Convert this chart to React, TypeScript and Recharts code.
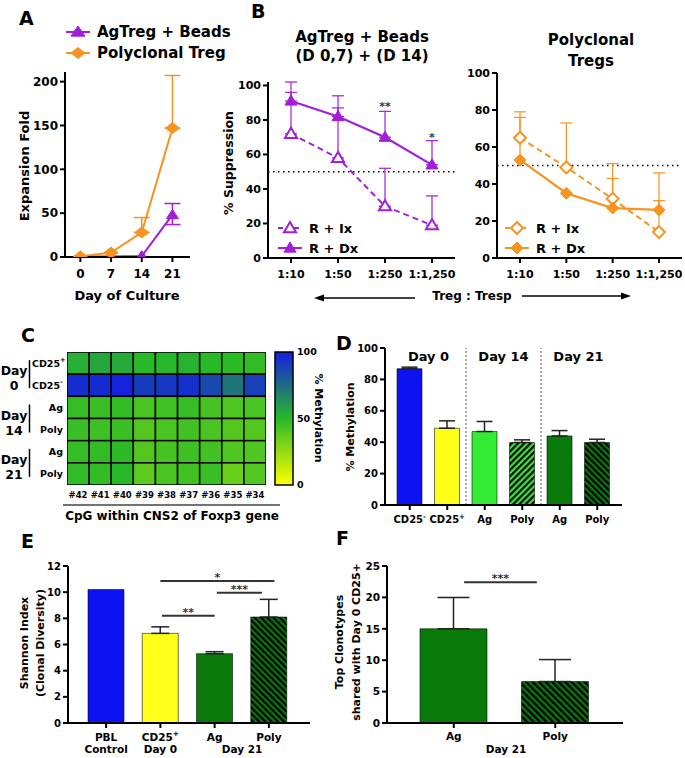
import React from "react";
import {
  LineChart,
  Line,
  BarChart,
  Bar,
  ScatterChart,
  Scatter,
  XAxis,
  YAxis,
  ErrorBar,
  ReferenceLine,
  ReferenceDot,
  Legend,
  Cell,
} from "recharts";

const FONT = "'DejaVu Sans', 'Liberation Sans', sans-serif";
const PURPLE = "#a11fd6";
const ORANGE = "#f7931e";
const BLUE = "#0d12f2";
const YELLOW = "#ffff1a";
const LIGHT_GREEN = "#35ec35";
const DARK_GREEN = "#087a0a";

// ---- A: expansion fold
const cultureDays = [0, 7, 14, 21];
const expansionSeries = ["AgTreg + Beads", "Polyclonal Treg"];
const agExpansion = [0.5, 0.5, 1, 48];
const agExpansionLow = [null, null, null, 11];
const agExpansionHigh = [null, null, null, 13];
const polyExpansion = [0.5, 5, 28, 147];
const polyExpansionHigh = [null, null, 17, 60];
const expansionTicks = [0, 50, 100, 150, 200];

// ---- B: suppression
const ratios = ["1:10", "1:50", "1:250", "1:1,250"];
const suppressionSeries = ["R + Ix", "R + Dx"];
const agIx = [72, 58, 30, 19];
const agIxHigh = [24, 29, 22, 17];
const agDx = [91, 82, 70, 54];
const agDxHigh = [11, 12, 15, 14];
const agStars = ["", "", "**", "*"];
const agStarLevel = [null, null, 89, 71];
const polyIx = [65, 49, 32, 14];
const polyIxHigh = [14, 24, 19, 32];
const polyDx = [53, 35, 27, 26];
const polyDxHigh = [23, null, 16, 5];
const suppressionTicks = [0, 20, 40, 60, 80, 100];

// ---- C: CNS2 methylation heatmap
const cpgSites = ["#42", "#41", "#40", "#39", "#38", "#37", "#36", "#35", "#34"];
const heatRowLabels = ["CD25+", "CD25-", "Ag", "Poly", "Ag", "Poly"];
const heatDays = ["0", "14", "21"];
const methCD25pos = [53, 56, 55, 50, 51, 52, 50, 49, 48];
const methCD25neg = [95, 96, 99, 90, 92, 94, 86, 72, 89];
const methAg14 = [47, 46, 48, 42, 44, 47, 43, 41, 42];
const methPoly14 = [46, 45, 46, 40, 42, 44, 42, 40, 40];
const methAg21 = [47, 48, 49, 40, 43, 45, 44, 41, 41];
const methPoly21 = [48, 48, 50, 38, 42, 44, 46, 35, 40];
const methRows = [methCD25pos, methCD25neg, methAg14, methPoly14, methAg21, methPoly21];
const colorbarTicks = [0, 50, 100];

// ---- D: mean methylation
const methIds = ["CD25-", "CD25+", "Ag14", "Poly14", "Ag21", "Poly21"];
const methTickLines = [["CD25-"], ["CD25+"], ["Ag"], ["Poly"], ["Ag"], ["Poly"]];
const methMean = [86.8, 48.9, 46.8, 39.8, 44, 39.8];
const methSem = [1, 4.7, 6.4, 1.7, 3.4, 2.1];
const dayBlocks = ["Day 0", "Day 14", "Day 21"];
const methTicks = [0, 20, 40, 60, 80, 100];

// ---- E: Shannon index
const diversityIds = ["PBL", "CD25+", "Ag", "Poly"];
const diversityTickLines = [["PBL", "Control"], ["CD25+", "Day 0"], ["Ag"], ["Poly"]];
const diversity = [10.2, 6.85, 5.3, 8.1];
const diversitySem = [null, 0.5, 0.15, 1.35];
// comparison bars, in units of bar index
const diversitySig = [
  { from: 1, to: 3.1, level: 10.85, stars: "*" },
  { from: 2.04, to: 2.87, level: 9.95, stars: "***" },
  { from: 1.03, to: 2.0, level: 8.2, stars: "**" },
];
const diversityTicks = [0, 2, 4, 6, 8, 10, 12];

// ---- F: shared clonotypes
const clonotypeIds = ["Ag", "Poly"];
const clonotypes = [15, 6.6];
const clonotypeSem = [5, 3.5];
const clonotypeSig = [{ from: 0.1, to: 0.82, level: 22.4, stars: "***" }];
const clonotypeTicks = [0, 5, 10, 15, 20, 25];

const axisLine = { stroke: "#000", strokeWidth: 2 };
const tickFont = (size: number) => ({ fill: "#000", fontSize: size, fontWeight: 700, fontFamily: FONT });
const errPair = (low: any, high: any) => (high == null ? null : [low ?? 0, high]);

const methStops = [
  [255, 255, 0],
  [40, 185, 40],
  [20, 30, 225],
];
function methColor(v: number) {
  const t = Math.max(0, Math.min(100, v)) / 50;
  const [a, b] = t <= 1 ? [methStops[0], methStops[1]] : [methStops[1], methStops[2]];
  const f = t <= 1 ? t : t - 1;
  const c = a.map((x, k) => Math.round(x + (b[k] - x) * f));
  return `rgb(${c[0]},${c[1]},${c[2]})`;
}

// superscript + / - at the end of a label (CD25+)
function SupText({ text, size }: any) {
  const last = text.slice(-1);
  if (text.startsWith("CD25") && (last === "+" || last === "-")) {
    return (
      <>
        {text.slice(0, -1)}
        <tspan dy={-size * 0.45} fontSize={size * 0.7}>
          {last}
        </tspan>
      </>
    );
  }
  return <>{text}</>;
}

function Marker({ cx, cy, shape, color, open, rx, ry }: any) {
  if (cx == null || cy == null || isNaN(cx) || isNaN(cy)) return null;
  const pts =
    shape === "tri"
      ? [[cx, cy - ry * 1.1], [cx + rx, cy + ry * 0.75], [cx - rx, cy + ry * 0.75]]
      : [[cx, cy - ry], [cx + rx, cy], [cx, cy + ry], [cx - rx, cy]];
  return (
    <polygon
      points={pts.map((p) => p.join(",")).join(" ")}
      fill={open ? "#fff" : color}
      stroke={color}
      strokeWidth={open ? 2 : 1}
    />
  );
}

function SeriesLegend({ items, fontSize, gap, rx, ry }: any) {
  return (
    <svg width={200} height={gap * items.length + 6} style={{ display: "block", overflow: "visible" }}>
      {items.map((it: any, i: number) => {
        const y = 10 + i * gap;
        return (
          <g key={it.name}>
            <line x1={0} x2={24} y1={y} y2={y} stroke={it.color} strokeWidth={2} strokeDasharray={it.dash} />
            <Marker cx={12} cy={y} shape={it.shape} color={it.color} open={it.open} rx={rx} ry={ry} />
            <text x={31} y={y} dy="0.36em" fontSize={fontSize} fontWeight={700} fontFamily={FONT} fill="#000">
              {it.name}
            </text>
          </g>
        );
      })}
    </svg>
  );
}

// rotated axis title; "rot" (not "angle") so the Label props do not override it
function RotTitle({ tx, ty, lines, size, rot = -90, gap = 16 }: any) {
  return (
    <g transform={`translate(${tx},${ty}) rotate(${rot})`}>
      {lines.map((l: string, i: number) => (
        <text
          key={i}
          x={0}
          y={i * gap}
          textAnchor="middle"
          dominantBaseline="central"
          fontSize={size}
          fontWeight={700}
          fontFamily={FONT}
          fill="#000"
        >
          <SupText text={l} size={size} />
        </text>
      ))}
    </g>
  );
}

function AxisText({ tx, ty, text, size }: any) {
  return (
    <text x={tx} y={ty} textAnchor="middle" fontSize={size} fontWeight={700} fontFamily={FONT} fill="#000">
      {text}
    </text>
  );
}

function LinesTick({ x, index, payload, lines, size, y1, gap }: any) {
  const i = index ?? payload?.index ?? 0;
  const pair = lines[i] ?? [];
  return (
    <g>
      {pair.map((t: string, k: number) => (
        <text
          key={k}
          x={x}
          y={y1 + k * gap}
          textAnchor="middle"
          fontSize={size}
          fontWeight={700}
          fontFamily={FONT}
          fill="#000"
        >
          <SupText text={t} size={size} />
        </text>
      ))}
    </g>
  );
}

// asterisks; "lift" = baseline offset below the anchor point
function StarLabel({ viewBox, text, size, lift = 6 }: any) {
  const x = (viewBox?.x ?? 0) + (viewBox?.width ?? 0) / 2;
  const y = (viewBox?.y ?? 0) + (viewBox?.height ?? 0) / 2;
  return (
    <text x={x} y={y + lift} textAnchor="middle" fontSize={size} fontWeight={700} fontFamily={FONT} fill="#333">
      {text}
    </text>
  );
}

function Hatch({ id, color, turn, period }: any) {
  return (
    <pattern id={id} patternUnits="userSpaceOnUse" width={period} height={period} patternTransform={`rotate(${turn})`}>
      <rect width={period} height={period} fill={color} />
      <rect width={period / 2} height={period} fill="#000" />
    </pattern>
  );
}

// ---------------- A ----------------
function ExpansionChart() {
  const data = cultureDays.map((day, i) => ({
    day,
    ag: agExpansion[i],
    agErr: errPair(agExpansionLow[i], agExpansionHigh[i]),
    poly: polyExpansion[i],
    polyErr: errPair(0, polyExpansionHigh[i]),
  }));
  const legendItems = [
    { name: expansionSeries[0], color: PURPLE, shape: "tri", open: false },
    { name: expansionSeries[1], color: ORANGE, shape: "dia", open: false },
  ];
  return (
    <LineChart width={245} height={305} data={data} margin={{ top: 72, right: 55, bottom: 18, left: 20 }}>
      <XAxis
        type="number"
        dataKey="day"
        domain={[-3.5, 25]}
        ticks={cultureDays}
        allowDataOverflow
        axisLine={axisLine}
        tickLine={axisLine}
        tickSize={5}
        tickMargin={7}
        tick={tickFont(12)}
        height={30}
        label={<AxisText tx={127} ty={300} text="Day of Culture" size={13} />}
      />
      <YAxis
        domain={[0, 211]}
        ticks={expansionTicks}
        allowDataOverflow
        width={45}
        axisLine={axisLine}
        tickLine={axisLine}
        tickSize={5}
        tick={tickFont(12)}
        label={<RotTitle tx={24} ty={166} lines={["Expansion Fold"]} size={13} />}
      />
      <Line
        dataKey="ag"
        stroke={PURPLE}
        strokeWidth={2}
        isAnimationActive={false}
        dot={(p: any) => <Marker key={`ag-${p.index}`} cx={p.cx} cy={p.cy} shape="tri" color={PURPLE} rx={6} ry={5} />}
      >
        <ErrorBar dataKey="agErr" width={8} stroke={PURPLE} strokeWidth={1.5} direction="y" />
      </Line>
      <Line
        dataKey="poly"
        stroke={ORANGE}
        strokeWidth={2}
        isAnimationActive={false}
        dot={(p: any) => <Marker key={`po-${p.index}`} cx={p.cx} cy={p.cy} shape="dia" color={ORANGE} rx={7} ry={5.5} />}
      >
        <ErrorBar dataKey="polyErr" width={8} stroke={ORANGE} strokeWidth={1.5} direction="y" />
      </Line>
      <Legend
        layout="vertical"
        align="center"
        verticalAlign="middle"
        wrapperStyle={{ left: 66, top: 22, width: 200, height: 50 }}
        content={() => <SeriesLegend items={legendItems} fontSize={15} gap={21} rx={7} ry={5.5} />}
      />
    </LineChart>
  );
}

// ---------------- B ----------------
function SuppressionChart({ width, margin, ix, ixHigh, dx, dxHigh, color, shape, stars, starLevel, yTitle, legendLeft, idp }: any) {
  const data = ratios.map((ratio, i) => ({
    ratio,
    ix: ix[i],
    ixErr: errPair(0, ixHigh[i]),
    dx: dx[i],
    dxErr: errPair(0, dxHigh[i]),
  }));
  const legendItems = [
    { name: suppressionSeries[0], color, shape, open: true, dash: "5 3" },
    { name: suppressionSeries[1], color, shape, open: false },
  ];
  const rx = 6;
  const ry = shape === "tri" ? 5.5 : 6;
  return (
    <LineChart width={width} height={305} data={data} margin={margin}>
      <XAxis
        dataKey="ratio"
        padding={{ left: 23, right: 23 }}
        interval={0}
        axisLine={axisLine}
        tickLine={axisLine}
        tickSize={5}
        tickMargin={7}
        tick={tickFont(11)}
        height={30}
      />
      <YAxis
        domain={[0, 100]}
        ticks={suppressionTicks}
        width={40}
        axisLine={axisLine}
        tickLine={axisLine}
        tickSize={5}
        tick={tickFont(11)}
        label={yTitle ? <RotTitle tx={13} ty={163} lines={[yTitle]} size={12.5} /> : undefined}
      />
      <ReferenceLine y={50} stroke="#000" strokeWidth={1.6} strokeDasharray="1.5 3.5" />
      <Line
        dataKey="ix"
        stroke={color}
        strokeWidth={2}
        strokeDasharray="6 4"
        isAnimationActive={false}
        dot={(p: any) => (
          <Marker key={`${idp}ix-${p.index}`} cx={p.cx} cy={p.cy} shape={shape} color={color} open rx={rx} ry={ry} />
        )}
      >
        <ErrorBar dataKey="ixErr" width={6} stroke={color} strokeWidth={1.2} direction="y" />
      </Line>
      <Line
        dataKey="dx"
        stroke={color}
        strokeWidth={2.2}
        isAnimationActive={false}
        dot={(p: any) => (
          <Marker key={`${idp}dx-${p.index}`} cx={p.cx} cy={p.cy} shape={shape} color={color} rx={rx} ry={ry} />
        )}
      >
        <ErrorBar dataKey="dxErr" width={6} stroke={color} strokeWidth={1.2} direction="y" />
      </Line>
      {stars.map((s: string, i: number) =>
        s ? (
          <ReferenceDot
            key={`st-${i}`}
            x={ratios[i]}
            y={starLevel[i]}
            r={0}
            fill="none"
            stroke="none"
            label={<StarLabel text={s} size={11} lift={6} />}
          />
        ) : null
      )}
      <Legend
        layout="vertical"
        align="center"
        verticalAlign="middle"
        wrapperStyle={{ left: legendLeft, top: 218, width: 150, height: 45 }}
        content={() => <SeriesLegend items={legendItems} fontSize={13} gap={20} rx={rx} ry={ry} />}
      />
    </LineChart>
  );
}

// ---------------- C ----------------
const HEAT_CELL_W = 199 / 9;
const HEAT_CELL_H = 133 / 6;

function HeatRowTick({ y, payload }: any) {
  const i = payload?.value ?? 0;
  const label = heatRowLabels[i];
  const isCD = label.startsWith("CD25");
  const cy = y + HEAT_CELL_H / 2;
  return (
    <g>
      <text
        x={isCD ? 32 : 63}
        y={y}
        dy="0.36em"
        textAnchor={isCD ? "start" : "end"}
        fontSize={9.5}
        fontWeight={700}
        fontFamily={FONT}
        fill="#000"
      >
        <SupText text={label} size={9.5} />
      </text>
      {i % 2 === 0 && (
        <g fontFamily={FONT} fontWeight={700} fill="#000">
          <text x={14} y={cy + 1} textAnchor="middle" fontSize={12.5}>
            Day
          </text>
          <text x={14} y={cy + 16} textAnchor="middle" fontSize={12.5}>
            {heatDays[i / 2]}
          </text>
          <line x1={29.5} x2={29.5} y1={cy - 14} y2={cy + 14} stroke="#000" strokeWidth={1.5} />
        </g>
      )}
    </g>
  );
}

function HeatCaption() {
  return (
    <g>
      <line x1={63} x2={280} y1={205} y2={205} stroke="#444" strokeWidth={1.5} />
      <text x={172} y={220} textAnchor="middle" fontSize={12} fontWeight={700} fontFamily={FONT} fill="#000">
        CpG within CNS2 of Foxp3 gene
      </text>
    </g>
  );
}

function HeatmapChart() {
  const cells = methRows.flatMap((row, r) => row.map((v, c) => ({ col: c, row: r, v })));
  return (
    <ScatterChart width={290} height={225} margin={{ top: 52, right: 24, bottom: 0, left: 0 }}>
      <XAxis
        type="number"
        dataKey="col"
        domain={[-0.5, 8.5]}
        ticks={cpgSites.map((_, i) => i)}
        tickFormatter={(v: number) => cpgSites[v]}
        interval={0}
        allowDataOverflow
        axisLine={false}
        tickLine={false}
        tickSize={0}
        tickMargin={7}
        tick={tickFont(8.5)}
        height={40}
        label={<HeatCaption />}
      />
      <YAxis
        type="number"
        dataKey="row"
        domain={[-0.5, 5.5]}
        ticks={heatRowLabels.map((_, i) => i)}
        interval={0}
        reversed
        allowDataOverflow
        axisLine={false}
        tickLine={false}
        width={67}
        tick={<HeatRowTick />}
      />
      <Scatter
        data={cells}
        isAnimationActive={false}
        shape={(p: any) => (
          <rect
            x={p.cx - HEAT_CELL_W / 2}
            y={p.cy - HEAT_CELL_H / 2}
            width={HEAT_CELL_W}
            height={HEAT_CELL_H}
            fill={methColor(p.payload.v)}
            stroke="#000"
            strokeWidth={1.5}
          />
        )}
      />
    </ScatterChart>
  );
}

function ColorbarChart() {
  return (
    <BarChart width={75} height={200} data={[{ v: 100 }]} margin={{ top: 52, right: 0, bottom: 15, left: 13 }} barCategoryGap={0}>
      <defs>
        <linearGradient id="methGrad" x1="0" y1="0" x2="0" y2="1">
          <stop offset="0%" stopColor={methColor(100)} />
          <stop offset="50%" stopColor={methColor(50)} />
          <stop offset="100%" stopColor={methColor(0)} />
        </linearGradient>
      </defs>
      <XAxis hide />
      <YAxis
        orientation="right"
        domain={[0, 100]}
        ticks={colorbarTicks}
        width={44}
        axisLine={false}
        tickLine={false}
        tickSize={0}
        tickMargin={4}
        tick={tickFont(9.5)}
        label={<RotTitle tx={56} ty={118} rot={90} lines={["% Methylation"]} size={11} />}
      />
      <Bar dataKey="v" fill="url(#methGrad)" stroke="#000" strokeWidth={1.5} isAnimationActive={false} />
    </BarChart>
  );
}

// ---------------- D ----------------
function MethylationBars() {
  const data = methIds.map((id, i) => ({ id, mean: methMean[i], err: errPair(0, methSem[i]) }));
  const fills = [BLUE, YELLOW, LIGHT_GREEN, "url(#hatchD1)", DARK_GREEN, "url(#hatchD2)"];
  return (
    <BarChart width={300} height={232} data={data} margin={{ top: 48, right: 8, bottom: 3, left: 15 }} barSize={25}>
      <defs>
        <Hatch id="hatchD1" color={LIGHT_GREEN} turn={45} period={4.4} />
        <Hatch id="hatchD2" color={DARK_GREEN} turn={-45} period={4.4} />
      </defs>
      <XAxis
        dataKey="id"
        padding={{ left: 6, right: 6 }}
        interval={0}
        axisLine={axisLine}
        tickLine={axisLine}
        tickSize={5}
        height={24}
        tick={<LinesTick lines={methTickLines} size={10} y1={223} gap={12} />}
      />
      <YAxis
        domain={[0, 100]}
        ticks={methTicks}
        width={40}
        axisLine={axisLine}
        tickLine={axisLine}
        tickSize={5}
        tick={tickFont(10)}
        label={<RotTitle tx={20} ty={127} lines={["% Methylation"]} size={11} />}
      />
      {[1, 3].map((k) => (
        <ReferenceLine key={`sep-${k}`} x={methIds[k]} position="end" stroke="#555" strokeWidth={1} strokeDasharray="2 2" />
      ))}
      {dayBlocks.map((d, k) => (
        <ReferenceLine
          key={`blk-${k}`}
          x={methIds[k * 2]}
          position="end"
          stroke="none"
          label={{ value: d, position: "insideTop", offset: 4, fill: "#000", fontSize: 13, fontWeight: 700, fontFamily: FONT }}
        />
      ))}
      <Bar dataKey="mean" isAnimationActive={false} stroke="rgba(0,0,0,0.55)" strokeWidth={1}>
        {data.map((_, i) => (
          <Cell key={i} fill={fills[i]} />
        ))}
        <ErrorBar dataKey="err" width={8} stroke="#222" strokeWidth={1.5} direction="y" />
      </Bar>
    </BarChart>
  );
}

// ---------------- E ----------------
function DiversityBars() {
  const data = diversityIds.map((id, i) => ({ id, pos: i, value: diversity[i], err: errPair(0, diversitySem[i]) }));
  const fills = [BLUE, YELLOW, DARK_GREEN, "url(#hatchE)"];
  return (
    <BarChart width={320} height={238} data={data} margin={{ top: 46, right: 10, bottom: 0, left: 40 }} barSize={36}>
      <defs>
        <Hatch id="hatchE" color={DARK_GREEN} turn={-45} period={4.4} />
      </defs>
      <XAxis
        dataKey="id"
        padding={{ left: 11, right: 14 }}
        interval={0}
        axisLine={axisLine}
        tickLine={axisLine}
        tickSize={5}
        height={35}
        tick={<LinesTick lines={diversityTickLines} size={10.5} y1={221} gap={12} />}
        label={<AxisText tx={242} ty={233} text="Day 21" size={10.5} />}
      />
      <XAxis
        xAxisId="sig"
        dataKey="pos"
        type="number"
        domain={["dataMin", "dataMax"]}
        padding={{ left: 38, right: 41 }}
        hide
      />
      <YAxis
        domain={[0, 12]}
        ticks={diversityTicks}
        width={28}
        axisLine={axisLine}
        tickLine={axisLine}
        tickSize={5}
        tick={tickFont(10)}
        label={<RotTitle tx={24} ty={123} lines={["Shannon Index", "(Clonal Diversity)"]} size={11} gap={16} />}
      />
      <Bar dataKey="value" isAnimationActive={false} stroke="rgba(0,0,0,0.55)" strokeWidth={1}>
        {data.map((_, i) => (
          <Cell key={i} fill={fills[i]} />
        ))}
        <ErrorBar dataKey="err" width={9} stroke="#222" strokeWidth={1.5} direction="y" />
      </Bar>
      {diversitySig.map((s, k) => (
        <ReferenceLine
          key={`sl-${k}`}
          xAxisId="sig"
          ifOverflow="visible"
          segment={[
            { x: s.from, y: s.level },
            { x: s.to, y: s.level },
          ]}
          stroke="#333"
          strokeWidth={2}
        />
      ))}
      {diversitySig.map((s, k) => (
        <ReferenceDot
          key={`sd-${k}`}
          xAxisId="sig"
          ifOverflow="visible"
          x={(s.from + s.to) / 2}
          y={s.level}
          r={0}
          fill="none"
          stroke="none"
          label={<StarLabel text={s.stars} size={11} lift={0} />}
        />
      ))}
    </BarChart>
  );
}

// ---------------- F ----------------
function ClonotypeBars() {
  const data = clonotypeIds.map((id, i) => ({ id, pos: i, value: clonotypes[i], err: errPair(0, clonotypeSem[i]) }));
  const fills = [DARK_GREEN, "url(#hatchF)"];
  return (
    <BarChart width={300} height={238} data={data} margin={{ top: 46, right: 7, bottom: 0, left: 27 }} barSize={67}>
      <defs>
        <Hatch id="hatchF" color={DARK_GREEN} turn={-45} period={4.6} />
      </defs>
      <XAxis
        dataKey="id"
        padding={{ left: 16, right: 17 }}
        interval={0}
        axisLine={axisLine}
        tickLine={axisLine}
        tickSize={5}
        height={35}
        tick={<LinesTick lines={clonotypeIds.map((c) => [c])} size={10.5} y1={220} gap={12} />}
        label={<AxisText tx={176} ty={233} text="Day 21" size={10.5} />}
      />
      <XAxis
        xAxisId="sig"
        dataKey="pos"
        type="number"
        domain={["dataMin", "dataMax"]}
        padding={{ left: 67, right: 68 }}
        hide
      />
      <YAxis
        domain={[0, 25]}
        ticks={clonotypeTicks}
        width={30}
        axisLine={axisLine}
        tickLine={axisLine}
        tickSize={5}
        tick={tickFont(10.5)}
        label={<RotTitle tx={9} ty={122} lines={["Top Clonotypes", "shared with Day 0 CD25+"]} size={11} gap={17} />}
      />
      <Bar dataKey="value" isAnimationActive={false} stroke="rgba(0,0,0,0.55)" strokeWidth={1}>
        {data.map((_, i) => (
          <Cell key={i} fill={fills[i]} />
        ))}
        <ErrorBar dataKey="err" width={16} stroke="#222" strokeWidth={1.5} direction="y" />
      </Bar>
      {clonotypeSig.map((s, k) => (
        <ReferenceLine
          key={`fl-${k}`}
          xAxisId="sig"
          ifOverflow="visible"
          segment={[
            { x: s.from, y: s.level },
            { x: s.to, y: s.level },
          ]}
          stroke="#333"
          strokeWidth={2}
        />
      ))}
      {clonotypeSig.map((s, k) => (
        <ReferenceDot
          key={`fd-${k}`}
          xAxisId="sig"
          ifOverflow="visible"
          x={(s.from + s.to) / 2}
          y={s.level}
          r={0}
          fill="none"
          stroke="none"
          label={<StarLabel text={s.stars} size={11} lift={0} />}
        />
      ))}
    </BarChart>
  );
}

// panel letters, titles and the Treg : Tresp arrows
function Overlay() {
  const letter = { fontSize: 19, fontWeight: 700, fontFamily: FONT, fill: "#000" } as any;
  const title = { fontSize: 15, fontWeight: 700, fontFamily: FONT, fill: "#000", textAnchor: "middle" } as any;
  return (
    <svg width={685} height={758} style={{ position: "absolute", left: 0, top: 0, pointerEvents: "none" }}>
      <text x={19} y={25} {...letter}>A</text>
      <text x={251} y={18} {...letter}>B</text>
      <text x={21} y={342} {...letter}>C</text>
      <text x={336} y={350} {...letter}>D</text>
      <text x={21} y={548} {...letter}>E</text>
      <text x={336} y={545} {...letter}>F</text>
      <text x={362} y={42} {...title}>AgTreg + Beads</text>
      <text x={362} y={61} {...title}>(D 0,7) + (D 14)</text>
      <text x={591} y={45} {...title}>Polyclonal</text>
      <text x={591} y={66} {...title}>Tregs</text>
      <line x1={322} x2={415} y1={298} y2={298} stroke="#000" strokeWidth={1.5} />
      <polygon points="314,298 324,294.5 324,301.5" fill="#000" />
      <text x={472} y={300} textAnchor="middle" fontSize={12} fontWeight={700} fontFamily={FONT} fill="#000">
        Treg : Tresp
      </text>
      <line x1={522} x2={622} y1={296} y2={296} stroke="#000" strokeWidth={1.5} />
      <polygon points="631,296 621,292.5 621,299.5" fill="#000" />
    </svg>
  );
}

export default function App() {
  return (
    <div
      style={{
        position: "absolute",
        left: 0,
        top: 0,
        width: 685,
        height: 758,
        background: "#fff",
        fontFamily: FONT,
        overflow: "hidden",
      }}
    >
      <div style={{ position: "absolute", left: 0, top: 0 }}>
        <ExpansionChart />
      </div>
      <div style={{ position: "absolute", left: 215, top: 0 }}>
        <SuppressionChart
          idp="ag"
          width={245}
          margin={{ top: 82, right: 5, bottom: 17, left: 13 }}
          ix={agIx}
          ixHigh={agIxHigh}
          dx={agDx}
          dxHigh={agDxHigh}
          color={PURPLE}
          shape="tri"
          stars={agStars}
          starLevel={agStarLevel}
          yTitle="% Suppression"
          legendLeft={63}
        />
      </div>
      <div style={{ position: "absolute", left: 455, top: 0 }}>
        <SuppressionChart
          idp="po"
          width={230}
          margin={{ top: 73, right: 3, bottom: 17, left: 2 }}
          ix={polyIx}
          ixHigh={polyIxHigh}
          dx={polyDx}
          dxHigh={polyDxHigh}
          color={ORANGE}
          shape="dia"
          stars={["", "", "", ""]}
          starLevel={[null, null, null, null]}
          yTitle={null}
          legendLeft={50}
        />
      </div>
      <div style={{ position: "absolute", left: 0, top: 300 }}>
        <HeatmapChart />
      </div>
      <div style={{ position: "absolute", left: 262, top: 300 }}>
        <ColorbarChart />
      </div>
      <div style={{ position: "absolute", left: 330, top: 300 }}>
        <MethylationBars />
      </div>
      <div style={{ position: "absolute", left: 0, top: 520 }}>
        <DiversityBars />
      </div>
      <div style={{ position: "absolute", left: 330, top: 520 }}>
        <ClonotypeBars />
      </div>
      <Overlay />
    </div>
  );
}
